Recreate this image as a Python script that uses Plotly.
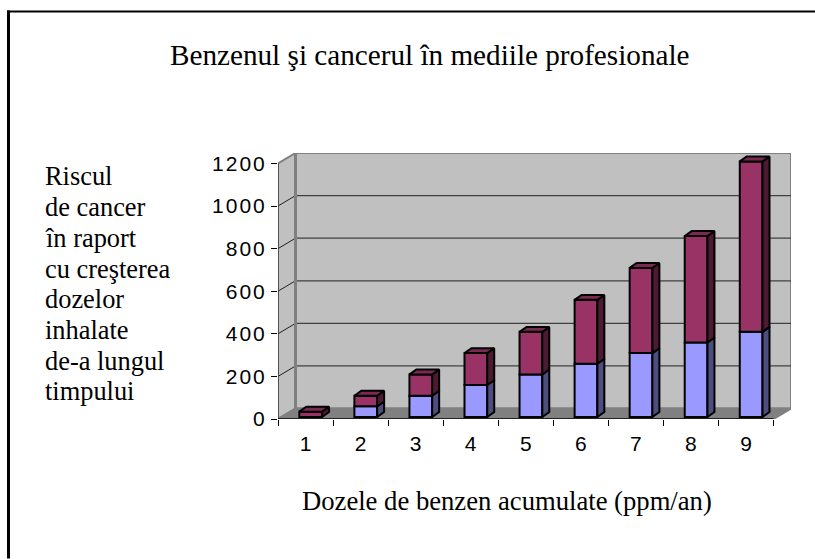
import plotly.graph_objects as go

categories = [1, 2, 3, 4, 5, 6, 7, 8, 9]
lower_values = [0, 50, 100, 150, 200, 250, 300, 350, 400]
upper_values = [25, 50, 100, 150, 200, 300, 400, 500, 800]
y_ticks = [0, 200, 400, 600, 800, 1000, 1200]
title_text = "Benzenul şi cancerul în mediile profesionale"
x_title_text = "Dozele de benzen acumulate (ppm/an)"
y_title_lines = ["Riscul", "de cancer", "în raport", "cu creşterea", "dozelor",
                 "inhalate", "de-a lungul", "timpului"]

W, H = 815, 559
L, R, T, B = 278.0, 791.0, 152.8, 419.3
WALL_DX, WALL_DY = 0.318, 49.0
BAR_SHIFT, BAR_BASE, BAR_W = 0.094, 9.4, 0.413
BAR_DX, BAR_DY = 0.127, 23.0
C_LOW, C_UP = "#9999FF", "#993366"
C_LOW_SIDE, C_UP_SIDE, C_UP_TOP = "#4D4D80", "#4D1A33", "#7A2952"
SERIF = "Liberation Serif, Times New Roman, serif"
SANS = "Liberation Sans, Arial, sans-serif"

x0, x1 = 0.5, categories[-1] + 0.5
fig = go.Figure()


def poly(xs, ys, color):
    fig.add_trace(go.Scatter(x=xs + xs[:1], y=ys + ys[:1], mode="lines", fill="toself",
                             fillcolor=color, line=dict(color="black", width=2),
                             hoverinfo="skip", showlegend=False))


bar_x = [c + BAR_SHIFT for c in categories]
fig.add_trace(go.Bar(x=bar_x, y=lower_values, base=[BAR_BASE] * len(categories), width=BAR_W,
                     marker=dict(color=C_LOW, line=dict(color="black", width=2)), showlegend=False))
fig.add_trace(go.Bar(x=bar_x, y=upper_values, base=[BAR_BASE + v for v in lower_values], width=BAR_W,
                     marker=dict(color=C_UP, line=dict(color="black", width=2)), showlegend=False))

for c, lo, up in zip(bar_x, lower_values, upper_values):
    right = c + BAR_W / 2
    left = c - BAR_W / 2
    b = BAR_BASE
    if lo > 0:
        poly([right, right + BAR_DX, right + BAR_DX, right],
             [b, b + BAR_DY, b + lo + BAR_DY, b + lo], C_LOW_SIDE)
    poly([right, right + BAR_DX, right + BAR_DX, right],
         [b + lo, b + lo + BAR_DY, b + lo + up + BAR_DY, b + lo + up], C_UP_SIDE)
    top = b + lo + up
    poly([left, right, right + BAR_DX, left + BAR_DX], [top, top, top + BAR_DY, top + BAR_DY], C_UP_TOP)

shapes = []
top_v = y_ticks[-1]


def path(points):
    return "M" + " L".join(f"{a},{b}" for a, b in points) + " Z"


def wall(points, fill, line="#808080", width=2):
    shapes.append(dict(type="path", path=path(points), xref="x", yref="y", layer="below",
                       fillcolor=fill, line=dict(color=line, width=width)))


def seg(a, b, c, d, color, width):
    shapes.append(dict(type="line", x0=a, y0=b, x1=c, y1=d, xref="x", yref="y", layer="below",
                       line=dict(color=color, width=width)))


wall([(x0 + WALL_DX, WALL_DY), (x1 + WALL_DX, WALL_DY), (x1 + WALL_DX, top_v + WALL_DY),
      (x0 + WALL_DX, top_v + WALL_DY)], "#C0C0C0")
wall([(x0, 0), (x0 + WALL_DX, WALL_DY), (x0 + WALL_DX, top_v + WALL_DY), (x0, top_v)], "#C0C0C0")
wall([(x0, 0), (x1, 0), (x1 + WALL_DX, WALL_DY), (x0 + WALL_DX, WALL_DY)], "#808080")
for v in y_ticks[1:-1]:
    seg(x0 + WALL_DX, v + WALL_DY, x1 + WALL_DX, v + WALL_DY, "#404040", 1.2)
    seg(x0, v, x0 + WALL_DX, v + WALL_DY, "#202020", 1)
seg(x0 + WALL_DX, WALL_DY, x0 + WALL_DX, top_v + WALL_DY, "#808080", 3)
seg(x0, 0, x0, top_v, "#404040", 1.5)
seg(x0, 0, x1, 0, "black", 1.5)


def px(x):
    return (x - L) / (R - L)


def py(y):
    return (B - y) / (B - T)


shapes.append(dict(type="line", xref="paper", yref="paper", x0=px(8.5), x1=px(8.5), y0=py(10), y1=py(H),
                   line=dict(color="black", width=3)))
shapes.append(dict(type="line", xref="paper", yref="paper", x0=px(7), x1=px(W), y0=py(11), y1=py(11),
                   line=dict(color="black", width=2)))

TEXT_SIZE = 26.4
TITLE_SIZE = 29.2
X_TITLE_SIZE = 26.65
annotations = [
    dict(text=title_text, x=px(429.5), y=py(63 + 7.2), xanchor="center", size=TITLE_SIZE),
    dict(text=x_title_text, x=px(507), y=py(507.7 + 8.5), xanchor="center", size=X_TITLE_SIZE),
]
for i, line in enumerate(y_title_lines):
    annotations.append(dict(text=line, x=px(45), y=py(185 + 30.75 * i + 6.3), xanchor="left", size=TEXT_SIZE))
for a in annotations:
    size = a.pop("size")
    a.update(xref="paper", yref="paper", yanchor="bottom", showarrow=False, borderpad=0, borderwidth=0,
             font=dict(family=SERIF, size=size, color="black"))

fig.update_layout(
    width=W, height=H, autosize=False,
    margin=dict(l=L, r=W - R, t=T, b=H - B, pad=0),
    paper_bgcolor="white", plot_bgcolor="white",
    barmode="overlay", showlegend=False,
    shapes=shapes, annotations=annotations,
    xaxis=dict(range=[x0, x1 + WALL_DX], tickmode="array", tickvals=categories,
               ticktext=[str(c) for c in categories],
               ticks="outside", ticklen=6, tickcolor="rgba(0,0,0,0)",
               minor=dict(tickmode="array", tickvals=[c - 0.5 for c in categories] + [x1],
                          ticks="outside", ticklen=6, tickcolor="black", tickwidth=1),
               showgrid=False, zeroline=False, showline=False,
               tickfont=dict(family=SANS, size=21, color="black")),
    yaxis=dict(range=[0, top_v + WALL_DY], tickmode="array", tickvals=y_ticks,
               ticks="outside", ticklen=6, tickcolor="black", tickwidth=1,
               showgrid=False, zeroline=False, showline=False,
               tickfont=dict(family=SANS, size=21, color="black")),
)

post = """
document.body.style.margin='0';
document.querySelectorAll('.ytick text').forEach(function(t){t.style.letterSpacing='2px';});
"""
fig.write_html("out.html", post_script=post, config=dict(displayModeBar=False))
